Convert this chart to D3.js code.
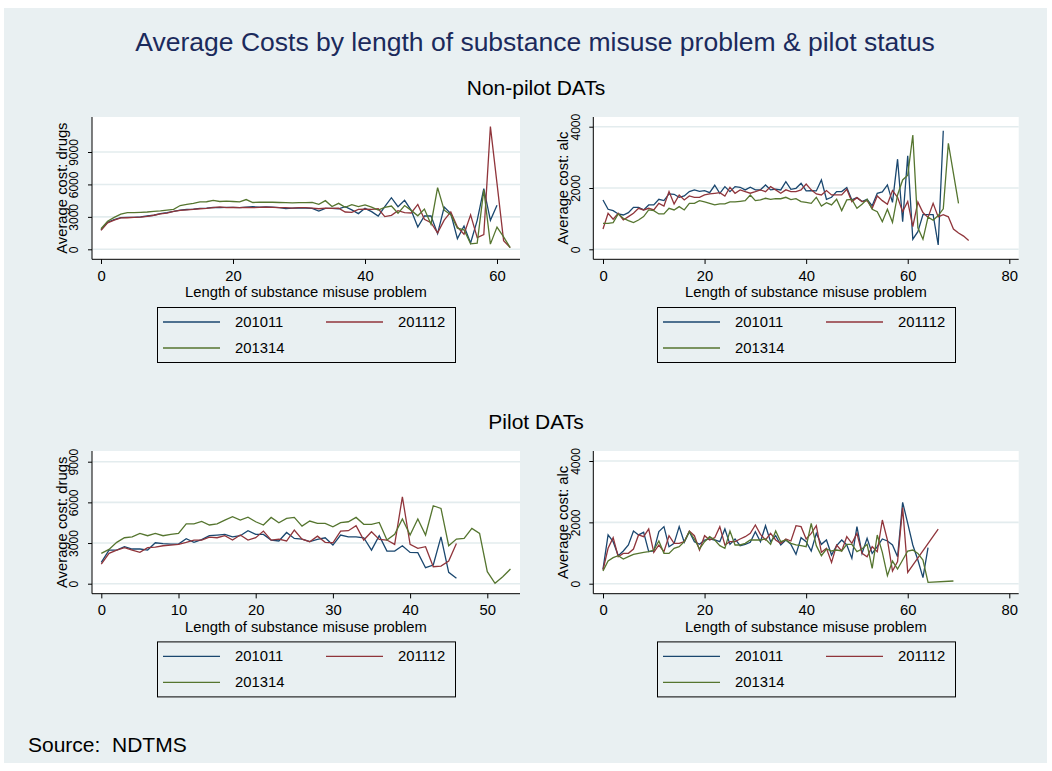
<!DOCTYPE html>
<html>
<head>
<meta charset="utf-8">
<script src="https://cdn.jsdelivr.net/npm/d3@7"></script>
<style>
  html, body { margin: 0; padding: 0; background: #ffffff; }
  svg { display: block; font-family: "Liberation Sans", Arial, Helvetica, sans-serif; }
</style>
</head>
<body>
<svg id="chart" width="1052" height="771"></svg>
<script>
// ---- Data: average cost by length of substance misuse problem (index = years) ----
const years = ["201011", "201112", "201314"];

// Non-pilot DATs, drugs
const npDrugs201011 = [1800,2500,2750,2930,2950,2950,3000,3080,3150,3300,
  3390,3500,3630,3680,3720,3790,3800,3880,3850,3870,
  3880,3850,3900,3940,3900,3930,3900,3850,3760,3800,
  3820,3800,3780,3540,3780,3790,3750,3940,3650,3300,
  3790,3480,3080,3940,4770,3940,4530,3600,2060,3080,
  3080,1450,3910,3300,990,2160,590,2680,5610,2680,4070];
const npDrugs201112 = [1750,2450,2700,2900,2920,2950,2980,3050,3150,3280,
  3350,3500,3600,3650,3700,3750,3780,3850,3920,3850,
  3870,3860,3870,3850,3870,3900,3880,3850,3850,3800,
  3850,3850,3800,3750,3800,3780,3800,3450,3420,3700,
  3720,3700,3750,3020,3140,3570,3390,3360,4150,2770,
  2460,1520,2690,3460,2060,1400,3190,1080,1360,11350,6100,800,150];
const npDrugs201314 = [1900,2600,2950,3250,3400,3400,3420,3450,3500,3550,
  3620,3700,4050,4150,4250,4380,4400,4520,4420,4450,
  4420,4380,4600,4330,4350,4360,4350,4330,4320,4300,
  4310,4320,4340,4160,4500,3950,4250,3880,4130,3950,
  4100,3900,3630,3880,4000,3330,4050,3600,3100,3720,
  2320,5700,3620,3200,1950,1800,500,570,5500,480,2050,1150,150];

// Non-pilot DATs, alcohol
const npAlc201011 = [1610,1306,1262,1153,1120,1197,1370,1370,1284,1447,
  1447,1632,1588,1806,1795,1697,1740,1882,1937,1893,
  1915,1850,2089,1828,2045,1882,2045,2024,1937,2024,
  1940,1940,2100,1937,1960,1937,2209,1958,1991,2154,
  1904,1915,1904,2263,1632,1697,1882,1882,2013,1610,
  1686,1556,1632,1420,1828,1870,2100,1530,2940,903,
  3050,330,577,1130,1130,1130,141,3870];
const npAlc201112 = [664,1175,980,1175,957,1066,1175,1338,1284,1338,
  1284,1500,1414,1882,1480,1773,1610,1740,1697,1697,
  1773,1806,1828,1850,1740,2024,1828,1937,1882,1830,
  1880,1940,1880,2045,1940,1828,1940,1880,1880,1940,
  2132,1940,1806,1773,1915,1773,1773,1773,1958,1556,
  1686,1556,1588,1338,1740,1588,1469,1915,1697,1229,
  1560,740,1540,1200,1040,1500,1055,1130,1060,660,530,430,290];
const npAlc201314 = [849,849,870,1153,1012,936,870,957,1066,1284,
  1262,1153,1153,1338,1284,1393,1284,1500,1500,1588,
  1545,1500,1447,1480,1480,1545,1545,1567,1588,1773,
  1588,1610,1665,1632,1650,1650,1697,1620,1650,1556,
  1530,1500,1697,1414,1523,1447,1632,1262,1610,1630,
  1338,1469,1632,1306,1229,903,1306,881,1773,2263,
  2420,3730,700,326,1050,950,1100,1320,3460,2480,1500];

// Pilot DATs, drugs
const pDrugs201011 = [1570,2480,2480,2730,2560,2560,2480,3020,2950,2920,
  2920,3320,3050,3250,3540,3590,3640,3460,3540,3910,
  3640,3640,3220,3150,3780,3340,3290,3100,3270,3390,
  2850,3590,3460,3460,3390,2480,3540,2410,2410,2800,
  2310,2290,1180,1380,3460,840,400];
const pDrugs201112 = [1450,2240,2480,2660,2480,2310,2660,2700,2800,2850,
  2900,3050,3220,3220,3440,3390,3540,3220,3590,3220,
  3390,3880,3220,3290,3150,3960,3290,3100,3510,3050,
  3020,3880,3910,4280,3220,3830,3270,3220,2900,6410,
  2900,2610,2730,1250,1300,1670,2970];
const pDrugs201314 = [2240,2530,3050,3390,3460,3710,3540,3710,3540,3640,
  3710,4420,4420,4600,4330,4420,4690,4940,4690,4910,
  4570,4330,4890,4500,4820,4890,4250,4620,4450,4450,
  4200,4500,4570,4890,4380,4380,4520,3220,3640,4770,
  3590,4770,3590,5750,5550,2800,3290,3340,4080,3710,
  890,30,520,1080];

// Pilot DATs, alcohol (null = no cases at that length)
const pAlc201011 = [478,1590,1370,913,1066,1262,1718,1590,1675,1045,
  1066,1697,1860,1207,1316,1860,1349,1697,1370,1283,
  1425,1458,1425,1370,1783,1283,1458,1240,1283,1349,
  1697,1370,1891,1370,1566,1262,1425,1283,957,1500,
  1370,1066,1642,1283,1425,935,1240,1425,1262,826,
  1860,989,1479,989,1207,1458,1392,1262,880,2653,
  1968,1262,772,196,1174];
const pAlc201112 = [446,1153,1500,880,989,989,1131,1590,1533,1783,
  1022,1262,1045,1565,1316,1316,1370,1718,1565,1098,
  1565,1425,1500,1860,1262,1370,1370,1458,1533,1642,
  1913,1610,1425,1642,1425,1316,1458,1392,1891,1860,
  1458,1642,1891,1022,1153,696,1262,1066,1533,1316,
  1642,989,880,1207,1045,2077,1425,413,718,2479,
  370,null,null,null,null,null,1783];
const pAlc201314 = [413,739,848,913,804,880,957,989,1022,1045,
  1098,1392,989,989,1153,1207,1370,1697,1458,1131,
  1370,1533,1425,1240,1153,1718,1262,1262,1316,1425,
  1425,1425,1458,1283,1718,1370,1425,1316,1262,1240,
  1207,1968,1240,913,1131,1066,1098,1066,1283,1283,
  1045,1131,1283,500,1588,1022,262,739,478,772,
  1066,1098,989,772,45,null,null,null,null,88];

// Axis ticks
const drugTicks = [0, 3000, 6000, 9000];
const alcTicks = [0, 2000, 4000];
const xTicksNpDrugs = [0, 20, 40, 60];
const xTicksAlc = [0, 20, 40, 60, 80];
const xTicksPDrugs = [0, 10, 20, 30, 40, 50];

// Text
const mainTitle = "Average Costs by length of substance misuse problem & pilot status";
const groupTitles = ["Non-pilot DATs", "Pilot DATs"];
const xTitle = "Length of substance misuse problem";
const sourceNote = "Source:  NDTMS";

// ---- Styling ----
const colors = ["#1A476F", "#90353B", "#55752F"];
const bgColor = "#E9F0F2";
const gridColor = "#E3ECEE";
const fontFamily = '"Liberation Sans", Arial, Helvetica, sans-serif';

const svg = d3.select("#chart");

// graph region
svg.append("rect").attr("x", 4).attr("y", 8).attr("width", 1043).attr("height", 755)
  .attr("fill", bgColor);

svg.append("text").attr("x", 535).attr("y", 42)
  .attr("text-anchor", "middle").attr("dominant-baseline", "central")
  .attr("font-size", 26.5).attr("fill", "#1B2A5C").text(mainTitle);

svg.append("text").attr("x", 536).attr("y", 87)
  .attr("text-anchor", "middle").attr("dominant-baseline", "central")
  .attr("font-size", 21).attr("fill", "#000").text(groupTitles[0]);
svg.append("text").attr("x", 536).attr("y", 421)
  .attr("text-anchor", "middle").attr("dominant-baseline", "central")
  .attr("font-size", 21).attr("fill", "#000").text(groupTitles[1]);

svg.append("text").attr("x", 28).attr("y", 744)
  .attr("dominant-baseline", "central")
  .attr("font-size", 21).attr("fill", "#000").style("white-space", "pre").text(sourceNote);

// panel layout
const panels = [
  { series: [npDrugs201011, npDrugs201112, npDrugs201314], yTitle: "Average cost: drugs",
    yTicks: drugTicks, xTicks: xTicksNpDrugs, left: 92, right: 520, top: 117, bottom: 259.3,
    xDom: [0, 60], xRng: [101, 497], yDom: [0, 9000], yRng: [249.3, 152] },
  { series: [npAlc201011, npAlc201112, npAlc201314], yTitle: "Average cost: alc",
    yTicks: alcTicks, xTicks: xTicksAlc, left: 593.3, right: 1018.7, top: 117, bottom: 259.3,
    xDom: [0, 80], xRng: [603, 1009.3], yDom: [0, 4000], yRng: [249.3, 126.7] },
  { series: [pDrugs201011, pDrugs201112, pDrugs201314], yTitle: "Average cost: drugs",
    yTicks: drugTicks, xTicks: xTicksPDrugs, left: 92, right: 520, top: 451, bottom: 593.7,
    xDom: [0, 50], xRng: [101.3, 487.3], yDom: [0, 9000], yRng: [583.7, 461.7] },
  { series: [pAlc201011, pAlc201112, pAlc201314], yTitle: "Average cost: alc",
    yTicks: alcTicks, xTicks: xTicksAlc, left: 593.3, right: 1018.7, top: 451, bottom: 593.7,
    xDom: [0, 80], xRng: [603, 1009.3], yDom: [0, 4000], yRng: [583.7, 461] }
];

panels.forEach(p => {
  const x = d3.scaleLinear().domain(p.xDom).range(p.xRng);
  const y = d3.scaleLinear().domain(p.yDom).range(p.yRng);
  const g = svg.append("g");

  // plot region
  g.append("rect").attr("x", p.left).attr("y", p.top)
    .attr("width", p.right - p.left).attr("height", p.bottom - p.top).attr("fill", "#fff");

  // gridlines
  g.selectAll("line.grid").data(p.yTicks).join("line").attr("class", "grid")
    .attr("x1", p.left + 0.5).attr("x2", p.right)
    .attr("y1", d => y(d)).attr("y2", d => y(d))
    .attr("stroke", gridColor).attr("stroke-width", 1.6);

  // series lines
  const line = d3.line().x(d => x(d[0])).y(d => y(d[1]));
  p.series.forEach((vals, i) => {
    const pts = vals.map((v, k) => [k, v]).filter(d => d[1] != null);
    g.append("path").datum(pts).attr("d", line)
      .attr("fill", "none").attr("stroke", colors[i]).attr("stroke-width", 1.3)
      .attr("stroke-linejoin", "miter");
  });

  // y axis
  const yAxis = g.append("g").attr("transform", `translate(${p.left},0)`)
    .call(d3.axisLeft(y).tickValues(p.yTicks).tickSize(4).tickSizeOuter(0).tickFormat(d3.format("d")));
  yAxis.select(".domain").remove();
  yAxis.selectAll(".tick line").attr("stroke", "#000");
  yAxis.selectAll(".tick text")
    .attr("transform", "rotate(-90)")
    .attr("x", 0).attr("y", -17.7).attr("dy", null)
    .attr("text-anchor", "middle").attr("dominant-baseline", "central")
    .attr("font-family", fontFamily).attr("font-size", 12).attr("fill", "#000");

  // x axis
  const xAxis = g.append("g").attr("transform", `translate(0,${p.bottom})`)
    .call(d3.axisBottom(x).tickValues(p.xTicks).tickSize(4.7).tickSizeOuter(0).tickFormat(d3.format("d")));
  xAxis.select(".domain").remove();
  xAxis.selectAll(".tick line").attr("stroke", "#000");
  xAxis.selectAll(".tick text")
    .attr("y", 16.4).attr("dy", null).attr("dominant-baseline", "central")
    .attr("font-family", fontFamily).attr("font-size", 14.8).attr("fill", "#000");

  // axis lines
  g.append("line").attr("x1", p.left).attr("x2", p.left).attr("y1", p.top).attr("y2", p.bottom)
    .attr("stroke", "#000").attr("stroke-width", 1);
  g.append("line").attr("x1", p.left).attr("x2", p.right).attr("y1", p.bottom).attr("y2", p.bottom)
    .attr("stroke", "#000").attr("stroke-width", 1);

  // axis titles
  const cx = (p.left + p.right) / 2;
  const cy = (p.top + p.bottom) / 2;
  g.append("text").attr("transform", `translate(${p.left - 30.3},${cy}) rotate(-90)`)
    .attr("text-anchor", "middle").attr("dominant-baseline", "central")
    .attr("font-size", 14.8).attr("fill", "#000").text(p.yTitle);
  g.append("text").attr("x", cx).attr("y", p.bottom + 33)
    .attr("text-anchor", "middle").attr("dominant-baseline", "central")
    .attr("font-size", 14.8).attr("fill", "#000").text(xTitle);

  // legend
  const lg = g.append("g").attr("transform", `translate(${cx - 149},${p.bottom + 47.7})`);
  lg.append("rect").attr("x", 0.5).attr("y", 0.5).attr("width", 298).attr("height", 55)
    .attr("fill", "none").attr("stroke", "#000").attr("stroke-width", 1);
  const slots = [[6, 15], [169, 15], [6, 41]];
  years.forEach((yr, i) => {
    const [sx, sy] = slots[i];
    lg.append("line").attr("x1", sx).attr("x2", sx + 57).attr("y1", sy).attr("y2", sy)
      .attr("stroke", colors[i]).attr("stroke-width", 1.3);
    lg.append("text").attr("x", sx + 72).attr("y", sy)
      .attr("dominant-baseline", "central").attr("font-size", 14.8).attr("fill", "#000").text(yr);
  });
});
</script>
</body>
</html>
